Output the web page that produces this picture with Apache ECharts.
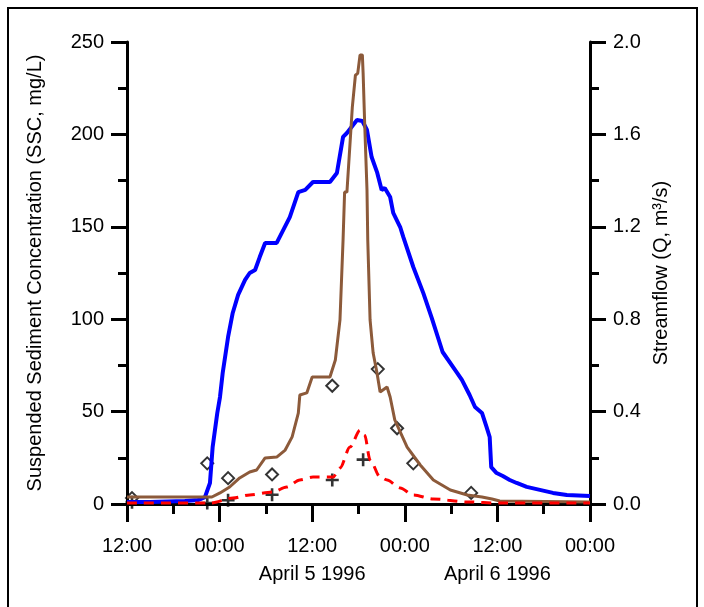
<!DOCTYPE html>
<html>
<head>
<meta charset="utf-8">
<script src="https://cdn.jsdelivr.net/npm/echarts@6/dist/echarts.min.js"></script>
<style>
  html, body { margin: 0; padding: 0; background: #fff; }
  #main { width: 704px; height: 607px; }
</style>
</head>
<body>
<div id="main"></div>
<script>
// hours after 12:00 April 4 1996
var streamflow = [[0, 0.009], [3, 0.009], [7.5, 0.013], [9.2, 0.017], [10.1, 0.03], [10.75, 0.091], [11.1, 0.247],
  [11.7, 0.394], [12.05, 0.463], [12.4, 0.567], [13.1, 0.723], [13.7, 0.827], [14.4, 0.905], [15.3, 0.97],
  [15.9, 1.0], [16.6, 1.013], [17.2, 1.069], [17.9, 1.13], [19.4, 1.13], [21.1, 1.242], [22.2, 1.35], [23.1, 1.36],
  [24.1, 1.394], [26.3, 1.394], [27.2, 1.433], [28.0, 1.589], [28.5, 1.606], [29.8, 1.662], [30.5, 1.658],
  [31.1, 1.619], [31.7, 1.502], [32.4, 1.437], [33.0, 1.359], [33.4, 1.368], [34.1, 1.329], [34.5, 1.26],
  [35.4, 1.199], [35.8, 1.156], [37.1, 1.026], [38.4, 0.913], [39.5, 0.805], [40.9, 0.658], [42.8, 0.567],
  [43.4, 0.537], [44.4, 0.472], [45.1, 0.42], [46.0, 0.394], [46.6, 0.333], [47.0, 0.29], [47.2, 0.16],
  [47.9, 0.134], [48.7, 0.121], [49.6, 0.104], [50.5, 0.091], [51.8, 0.074], [53.5, 0.061], [55.2, 0.048],
  [57.0, 0.039], [60, 0.035]];

var sscLine = [[0, 3.8], [11.0, 3.8], [12.05, 6.0], [13.3, 9.2], [14.6, 14.1], [15.9, 17.3], [16.8, 18.4],
  [17.9, 24.9], [19.4, 25.4], [20.5, 29.2], [21.4, 36.3], [22.2, 49.2], [22.4, 59.0], [23.3, 60.1], [24.0, 68.7],
  [26.3, 68.7], [27.0, 77.9], [27.6, 99.6], [28.0, 142.9], [28.2, 168.8], [28.5, 168.8], [29.2, 214.8],
  [29.6, 232], [29.9, 233], [30.2, 243], [30.5, 243], [30.6, 233], [30.8, 206], [31.1, 170], [31.2, 142.9],
  [31.5, 99.6], [31.9, 81.7], [32.4, 70.9], [32.8, 60.6], [33.7, 63.3], [34.1, 57.9], [34.7, 45.5], [36.3, 30.8],
  [38.0, 21.1], [39.7, 13.0], [41.9, 7.6], [44.1, 4.9], [46.0, 3.8], [47.3, 2.7], [48.3, 1.6], [60, 1.1]];

var sscDashed = [[0, 0.5], [10.75, 0.5], [13.7, 3.2], [15.9, 4.9], [18.9, 6.5], [20.7, 9.2], [22.4, 13.0],
  [24.1, 14.6], [26.7, 14.6], [27.6, 19.5], [28.9, 30.8], [30.2, 40], [30.8, 37.3], [31.5, 23.8], [32.8, 14.6],
  [33.7, 13], [35.4, 8.7], [37.1, 4.9], [39.7, 2.7], [44.1, 1.1], [48.3, 0.5], [60, 0.5]];

var diamondPts = [[0.65, 3.2], [10.4, 22], [13.1, 14], [18.8, 16], [26.6, 64], [32.5, 73], [35.0, 41], [37.1, 22], [44.6, 6]];
var plusPts = [[0.65, 1], [10.4, 0.5], [13.1, 2], [18.8, 5], [26.6, 13], [30.6, 24]];

var dayLabels = { 24: 'April 5 1996', 48: 'April 6 1996' };

var myChart = echarts.init(document.getElementById('main'));
var font = 'Liberation Sans, Arial, sans-serif';
var option = {
  animation: false,
  backgroundColor: '#fff',
  graphic: [{
    type: 'rect',
    shape: { x: 8, y: 8, width: 689, height: 620 },
    style: { fill: 'none', stroke: '#000', lineWidth: 2 },
    silent: true
  }],
  grid: { left: 127, right: 114, top: 42, bottom: 103 },
  xAxis: {
    type: 'value',
    min: 0, max: 60, interval: 12,
    axisLine: { lineStyle: { color: '#000', width: 3 } },
    axisTick: { length: 18, lineStyle: { color: '#000', width: 3 } },
    minorTick: { show: true, splitNumber: 2, length: 10, lineStyle: { color: '#000', width: 3 } },
    splitLine: { show: false },
    axisLabel: {
      color: '#000', fontSize: 20, fontFamily: font, margin: 28, lineHeight: 28,
      formatter: function (v) {
        var t = (v % 24 === 0) ? '12:00' : '00:00';
        return dayLabels[v] ? t + '\n' + dayLabels[v] : t;
      }
    }
  },
  yAxis: [{
    type: 'value',
    min: 0, max: 250, interval: 50,
    name: 'Suspended Sediment Concentration (SSC, mg/L)',
    nameLocation: 'middle', nameRotate: 90, nameGap: 82,
    nameTextStyle: { color: '#000', fontSize: 20, fontFamily: font },
    axisLine: { show: true, lineStyle: { color: '#000', width: 3 } },
    axisTick: { length: 16, lineStyle: { color: '#000', width: 3 } },
    minorTick: { show: true, splitNumber: 2, length: 9, lineStyle: { color: '#000', width: 3 } },
    splitLine: { show: false },
    axisLabel: { color: '#000', fontSize: 20, fontFamily: font, margin: 23 }
  }, {
    type: 'value',
    min: 0, max: 2, interval: 0.4,
    position: 'right',
    name: 'Streamflow (Q, m³/s)',
    nameLocation: 'middle', nameRotate: 90, nameGap: 61,
    nameTextStyle: { color: '#000', fontSize: 20, fontFamily: font },
    axisLine: { show: true, lineStyle: { color: '#000', width: 3 } },
    axisTick: { length: 16, lineStyle: { color: '#000', width: 3 } },
    minorTick: { show: true, splitNumber: 2, length: 9, lineStyle: { color: '#000', width: 3 } },
    splitLine: { show: false },
    axisLabel: {
      color: '#000', fontSize: 20, fontFamily: font, margin: 23,
      formatter: function (v) { return v.toFixed(1); }
    }
  }],
  series: [
    {
      name: 'Streamflow', type: 'line', yAxisIndex: 1, data: streamflow,
      symbol: 'none', lineStyle: { color: '#0000ff', width: 4 }
    },
    {
      name: 'SSC', type: 'line', yAxisIndex: 0, data: sscLine,
      symbol: 'none', lineStyle: { color: '#8c5a3a', width: 3 }
    },
    {
      name: 'SSC dashed', type: 'line', yAxisIndex: 0, data: sscDashed,
      symbol: 'none', smooth: 0.3, smoothMonotone: 'x',
      lineStyle: { color: '#ff0000', width: 3, type: [10, 7] }
    },
    {
      name: 'Diamonds', type: 'scatter', yAxisIndex: 0, data: diamondPts,
      symbol: 'diamond', symbolSize: 12,
      itemStyle: { color: 'rgba(0,0,0,0)', borderColor: '#000', borderWidth: 2 }
    },
    {
      name: 'Plus', type: 'scatter', yAxisIndex: 0, data: plusPts,
      symbol: 'path://M4,0H6V4H10V6H6V10H4V6H0V4H4Z', symbolSize: 13,
      itemStyle: { color: '#000' }
    }
  ]
};
option && myChart.setOption(option);
</script>
</body>
</html>
